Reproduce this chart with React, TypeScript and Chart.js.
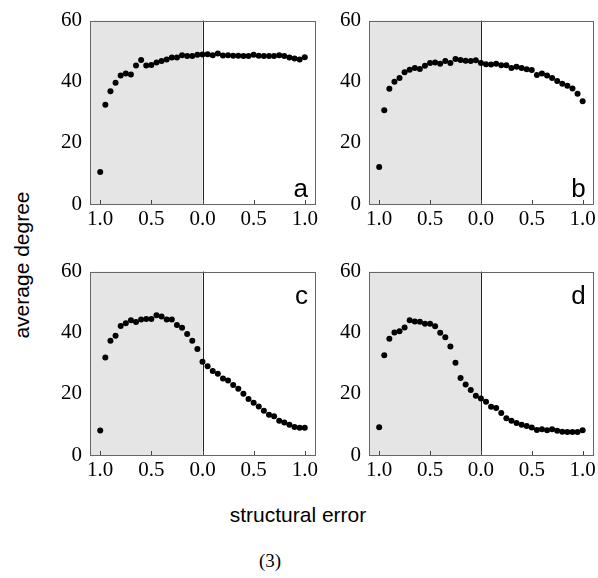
import React, { useEffect, useRef } from "react";
import { Chart, registerables } from "chart.js";

Chart.register(...registerables);

const xValues = [
  -1, -0.95, -0.9, -0.85, -0.8, -0.75, -0.7, -0.65, -0.6, -0.55, -0.5, -0.45, -0.4, -0.35, -0.3, -0.25, -0.2, -0.15, -0.1, -0.05,
  0, 0.05, 0.1, 0.15, 0.2, 0.25, 0.3, 0.35, 0.4, 0.45, 0.5, 0.55, 0.6, 0.65, 0.7, 0.75, 0.8, 0.85, 0.9, 0.95, 1,
];

const seriesA = [
  10.5, 32.5, 36.9, 39.7, 42.0, 42.7, 42.4, 45.3, 47.1, 45.3, 45.5, 46.3, 46.8, 47.3, 47.9, 47.9, 48.7, 48.4, 48.4, 48.8,
  48.9, 49.0, 48.7, 49.2, 48.6, 48.7, 48.5, 48.5, 48.4, 48.4, 48.8, 48.5, 48.4, 48.4, 48.4, 48.7, 48.4, 47.9, 47.6, 47.3, 48.0,
];

const seriesB = [
  12.1, 30.7, 37.7, 40.0, 41.2, 43.1, 43.9, 44.5, 44.2, 45.2, 46.1, 46.3, 45.9, 46.8, 46.1, 47.4, 47.1, 46.9, 46.8, 47.0,
  46.1, 45.7, 45.6, 45.9, 45.4, 45.4, 44.5, 44.9, 44.5, 44.1, 43.8, 42.2, 42.7, 42.0, 41.2, 40.2, 39.3, 38.7, 37.8, 36.1, 33.6,
];

const seriesC = [
  8.0, 31.9, 37.4, 39.0, 42.2, 43.1, 44.1, 43.5, 44.3, 44.5, 44.5, 45.7, 45.3, 44.3, 44.3, 42.5, 41.6, 39.6, 37.4, 34.7,
  30.5, 29.0, 27.5, 26.6, 25.0, 24.4, 22.9, 21.7, 20.0, 18.3, 17.1, 15.9, 14.5, 13.2, 12.7, 11.2, 10.6, 9.9, 9.2, 8.9, 8.9,
];

const seriesD = [
  9.1, 32.6, 38.0, 40.1, 40.5, 41.7, 44.1, 43.7, 43.6, 42.9, 42.9, 42.1, 40.0, 38.5, 35.5, 30.2, 25.2, 23.1, 21.3, 19.4,
  18.5, 17.4, 15.8, 15.4, 13.7, 12.0, 11.2, 10.5, 9.9, 9.5, 9.0, 8.2, 8.4, 8.1, 8.4, 7.9, 7.6, 7.5, 7.5, 7.5, 8.1,
];

const xTickValues = [-1, -0.5, 0, 0.5, 1];
const yTickValues = [0, 20, 40, 60];
const panelLetters = ["a", "b", "c", "d"];

type PanelProps = {
  values: number[];
  letter: string;
  letterTop: boolean;
  left: number;
  top: number;
  width: number;
  padRight: number;
};

function Panel({ values, letter, letterTop, left, top, width, padRight }: PanelProps) {
  const ref = useRef<HTMLCanvasElement | null>(null);
  useEffect(() => {
    if (!ref.current) return;
    const decor = {
      id: "decor",
      beforeDatasetsDraw(chart: any) {
        const ctx = chart.ctx;
        const { left: l, top: t, right: r, bottom: b } = chart.chartArea;
        const xs = chart.scales.x;
        const x0 = xs.getPixelForValue(0);
        ctx.save();
        ctx.fillStyle = "#e5e5e5";
        ctx.fillRect(l, t, x0 - l, b - t);
        ctx.strokeStyle = "#222";
        ctx.lineWidth = 1;
        ctx.beginPath();
        ctx.moveTo(Math.round(x0) + 0.5, t);
        ctx.lineTo(Math.round(x0) + 0.5, b);
        ctx.stroke();
        ctx.restore();
      },
      afterDatasetsDraw(chart: any) {
        const ctx = chart.ctx;
        const { left: l, top: t, right: r, bottom: b } = chart.chartArea;
        const xs = chart.scales.x;
        ctx.save();
        ctx.strokeStyle = "#666";
        ctx.lineWidth = 1;
        ctx.strokeRect(Math.round(l) + 0.5, Math.round(t) + 0.5, Math.round(r - l), Math.round(b - t));
        ctx.strokeStyle = "#444";
        ctx.beginPath();
        for (const v of xTickValues) {
          const px = Math.round(xs.getPixelForValue(v)) + 0.5;
          ctx.moveTo(px, b);
          ctx.lineTo(px, b - 4);
        }
        ctx.stroke();
        ctx.fillStyle = "#000";
        ctx.font = "26px 'Liberation Sans', Arial, sans-serif";
        ctx.textAlign = "right";
        ctx.textBaseline = "alphabetic";
        if (letterTop) ctx.fillText(letter, r - 7, t + 32);
        else ctx.fillText(letter, r - 7, b - 7);
        ctx.restore();
      },
    };
    const chart = new Chart(ref.current, {
      type: "scatter",
      data: {
        datasets: [
          {
            data: xValues.map((x, i) => ({ x, y: values[i] })),
            backgroundColor: "#000",
            borderColor: "#000",
            pointRadius: 3,
            pointHoverRadius: 3,
            borderWidth: 0,
          },
        ],
      },
      options: {
        animation: false,
        responsive: false,
        devicePixelRatio: 1,
        layout: { padding: { top: 14, right: padRight, left: 0, bottom: 0 } },
        plugins: { legend: { display: false }, tooltip: { enabled: false } },
        scales: {
          x: {
            type: "linear",
            min: -1.1,
            max: 1.1,
            grid: { display: false, drawTicks: false },
            border: { display: false },
            afterBuildTicks: (scale: any) => {
              scale.ticks = xTickValues.map((v) => ({ value: v }));
            },
            afterFit: (scale: any) => {
              scale.height = 36;
            },
            ticks: {
              autoSkip: false,
              maxRotation: 0,
              padding: 3,
              color: "#000",
              font: { family: "'Liberation Serif', serif", size: 21 },
              callback: (v: any) => Math.abs(Number(v)).toFixed(1),
            },
          },
          y: {
            type: "linear",
            min: 0,
            max: 60,
            grid: { display: false, drawTicks: false },
            border: { display: false },
            afterBuildTicks: (scale: any) => {
              scale.ticks = yTickValues.map((v) => ({ value: v }));
            },
            afterFit: (scale: any) => {
              scale.width = 50;
            },
            ticks: {
              padding: 8,
              color: "#000",
              font: { family: "'Liberation Serif', serif", size: 21 },
            },
          },
        },
      },
      plugins: [decor],
    } as any);
    return () => chart.destroy();
  }, []);
  return (
    <canvas
      ref={ref}
      width={width}
      height={240}
      style={{ position: "absolute", left, top, width, height: 240 }}
    />
  );
}

export default function App() {
  return (
    <div
      style={{
        position: "fixed",
        left: 0,
        top: 0,
        width: 598,
        height: 578,
        background: "#fff",
        overflow: "hidden",
      }}
    >
      <Panel values={seriesA} letter={panelLetters[0]} letterTop={false} left={40} top={0} width={285} padRight={10} />
      <Panel values={seriesB} letter={panelLetters[1]} letterTop={false} left={319} top={0} width={280} padRight={5} />
      <Panel values={seriesC} letter={panelLetters[2]} letterTop={true} left={40} top={251} width={285} padRight={10} />
      <Panel values={seriesD} letter={panelLetters[3]} letterTop={true} left={319} top={251} width={280} padRight={5} />
      <div
        style={{
          position: "absolute",
          left: 22,
          top: 265,
          transform: "translate(-50%, -50%) rotate(-90deg)",
          whiteSpace: "nowrap",
          fontFamily: "'Liberation Sans', Arial, sans-serif",
          fontSize: 21,
          color: "#000",
        }}
      >
        average degree
      </div>
      <div
        style={{
          position: "absolute",
          left: 298,
          top: 515,
          transform: "translate(-50%, -50%)",
          whiteSpace: "nowrap",
          fontFamily: "'Liberation Sans', Arial, sans-serif",
          fontSize: 21,
          color: "#000",
        }}
      >
        structural error
      </div>
      <div
        style={{
          position: "absolute",
          left: 270,
          top: 561,
          transform: "translate(-50%, -50%)",
          whiteSpace: "nowrap",
          fontFamily: "'Liberation Serif', serif",
          fontSize: 19,
          color: "#000",
        }}
      >
        (3)
      </div>
    </div>
  );
}
